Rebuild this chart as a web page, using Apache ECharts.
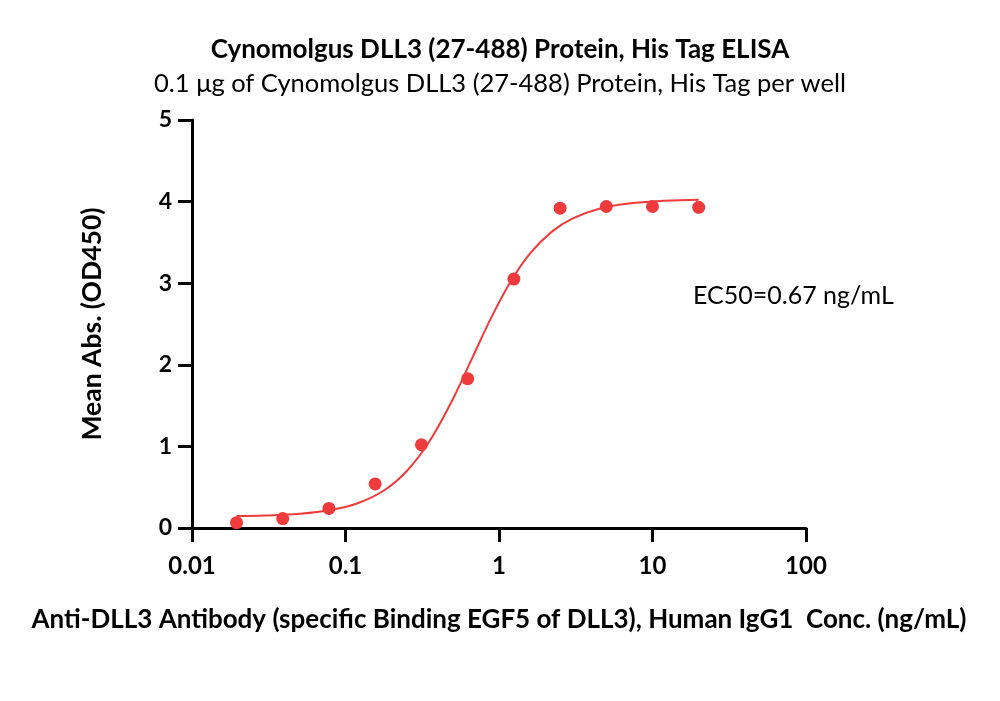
<!DOCTYPE html>
<html>
<head>
<meta charset="utf-8">
<script src="https://cdn.jsdelivr.net/npm/echarts@6/dist/echarts.min.js"></script>
<style>
html,body{margin:0;padding:0;background:#fff;}
#c{width:1000px;height:701px;}
</style>
</head>
<body>
<div id="c"></div>
<script>
// Measured points (concentration ng/mL, mean OD450)
const conc = [0.0195, 0.039, 0.078, 0.156, 0.3125, 0.625, 1.25, 2.5, 5, 10, 20];
const od450 = [0.065, 0.115, 0.24, 0.54, 1.02, 1.83, 3.05, 3.92, 3.94, 3.94, 3.93];
// Fitted curve
const curveX = [0.0195, 0.03, 0.05, 0.08, 0.12, 0.18, 0.25, 0.35, 0.5, 0.67, 0.9, 1.2, 1.6, 2.2, 3, 4.5, 7, 12, 20];
const curveY = [0.146, 0.154, 0.174, 0.22, 0.303, 0.466, 0.695, 1.053, 1.578, 2.085, 2.596, 3.03, 3.368, 3.629, 3.792, 3.913, 3.976, 4.01, 4.022];
const xTicks = [0.01, 0.1, 1, 10, 100];
const yTicks = [0, 1, 2, 3, 4, 5];

const FONT = 'Lato';
const RED = '#ef3b3b';
const chart = echarts.init(document.getElementById('c'));
chart.setOption({
  animation: false,
  backgroundColor: '#fff',
  title: [
    {text: 'Cynomolgus DLL3 (27-488) Protein, His Tag ELISA', left: 'center', top: 32,
     textStyle: {fontFamily: FONT, fontWeight: 'bold', fontSize: 26, color: '#000'}},
    {text: '0.1 μg of Cynomolgus DLL3 (27-488) Protein, His Tag per well', left: 'center', top: 66,
     textStyle: {fontFamily: FONT, fontWeight: 'normal', fontSize: 25.5, color: '#000'}}
  ],
  grid: {left: 192, right: 194, top: 120, bottom: 173, containLabel: false},
  xAxis: {
    type: 'log', logBase: 10, min: xTicks[0], max: xTicks[xTicks.length - 1],
    name: 'Anti-DLL3 Antibody (specific Binding EGF5 of DLL3), Human IgG1  Conc. (ng/mL)',
    nameLocation: 'middle', nameGap: 79,
    nameTextStyle: {fontFamily: FONT, fontWeight: 'bold', fontSize: 26, color: '#000'},
    axisLine: {lineStyle: {color: '#000', width: 3}},
    axisTick: {show: true, length: 14, lineStyle: {color: '#000', width: 3}},
    minorTick: {show: false},
    splitLine: {show: false},
    axisLabel: {fontFamily: FONT, fontWeight: 'bold', fontSize: 24, color: '#000', margin: 26,
      formatter: v => { const t = xTicks.find(k => Math.abs(k - v) / k < 1e-6); return t === undefined ? '' : String(t); }}
  },
  yAxis: {
    type: 'value', min: yTicks[0], max: yTicks[yTicks.length - 1], interval: 1,
    name: 'Mean Abs. (OD450)', nameLocation: 'middle', nameGap: 86,
    nameTextStyle: {fontFamily: FONT, fontWeight: 'bold', fontSize: 26.5, color: '#000'},
    axisLine: {show: true, lineStyle: {color: '#000', width: 3}},
    axisTick: {show: true, length: 14, lineStyle: {color: '#000', width: 3}},
    splitLine: {show: false},
    axisLabel: {fontFamily: FONT, fontWeight: 'bold', fontSize: 23, color: '#000', margin: 20}
  },
  graphic: [
    {type: 'text', left: 693, top: 283,
     style: {text: 'EC50=0.67 ng/mL', fontFamily: FONT, fontSize: 25, fill: '#000'}}
  ],
  series: [
    {type: 'line', data: curveX.map((x, i) => [x, curveY[i]]), smooth: 0.4, showSymbol: false,
     lineStyle: {color: RED, width: 2}, z: 2},
    {type: 'scatter', data: conc.map((x, i) => [x, od450[i]]), symbol: 'circle', symbolSize: 13,
     itemStyle: {color: RED, opacity: 1}, z: 3}
  ]
});
</script>
</body>
</html>
